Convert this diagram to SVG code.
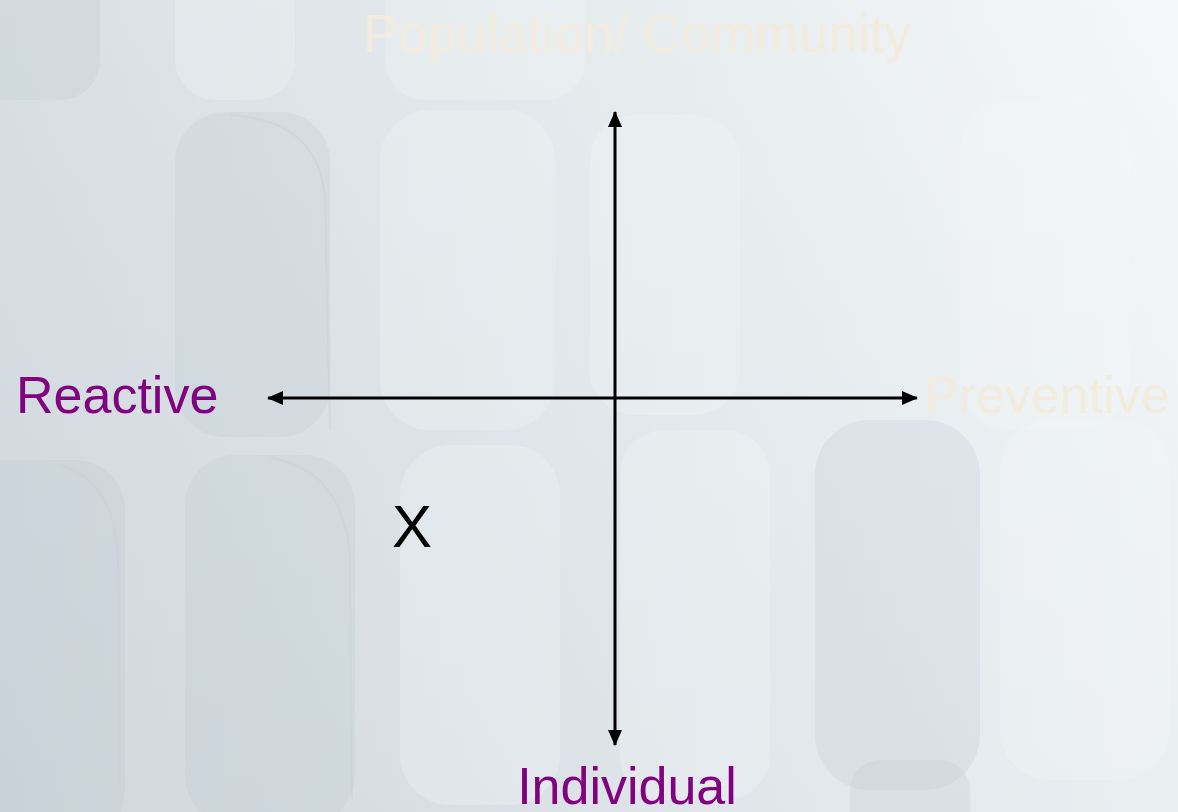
<svg xmlns="http://www.w3.org/2000/svg" width="1178" height="812" viewBox="0 0 1178 812">
<style>
.lbl{font-family:"Liberation Sans",Arial,sans-serif;font-size:52px}
.purple{fill:#800080}
.cream{fill:#F1ECDE}
.axis{stroke:#000;stroke-width:3;fill:none}
.pd{fill:#B8C4CC;opacity:0.22}
.pl{fill:#F4F7F9;opacity:0.28}
.edge{fill:none;stroke:#C6CFD5;stroke-width:2;opacity:0.4}
</style>
<defs>
<linearGradient id="bg" x1="0" y1="0" x2="1" y2="0">
<stop offset="0" stop-color="#D2DADF"/>
<stop offset="0.5" stop-color="#E2E8EB"/>
<stop offset="1" stop-color="#F3F6F8"/>
</linearGradient>
<linearGradient id="bgv" x1="0" y1="0" x2="0" y2="1">
<stop offset="0" stop-color="#FFFFFF" stop-opacity="0.15"/>
<stop offset="1" stop-color="#B9C5CD" stop-opacity="0.15"/>
</linearGradient>
<marker id="ah" viewBox="0 0 16 14" refX="15" refY="7" markerWidth="16" markerHeight="14" markerUnits="userSpaceOnUse" orient="auto">
<path d="M0,0 L16,7 L0,14 Z" fill="#000"/>
</marker>
</defs>
<g id="background">
<rect x="0" y="0" width="1178" height="812" fill="url(#bg)"/>
<rect x="0" y="0" width="1178" height="812" fill="url(#bgv)"/>
<rect class="pd" x="-40" y="-40" width="140" height="140" rx="40"/>
<rect class="pl" x="175" y="-40" width="120" height="140" rx="40"/>
<rect class="pl" x="385" y="-40" width="200" height="140" rx="40"/>
<rect class="pd" x="175" y="112" width="155" height="325" rx="50"/>
<path class="edge" d="M230,115 Q320,120 325,200 L330,430"/>
<rect class="pl" x="380" y="110" width="175" height="320" rx="50"/>
<rect class="pl" x="590" y="115" width="150" height="300" rx="45"/>
<rect class="pl" x="960" y="100" width="170" height="330" rx="50"/>
<rect class="pd" x="-40" y="460" width="165" height="380" rx="50"/>
<path class="edge" d="M60,465 Q115,480 118,560 L120,790"/>
<rect class="pd" x="185" y="455" width="170" height="370" rx="50"/>
<path class="edge" d="M270,458 Q345,470 350,560 L352,800"/>
<rect class="pl" x="400" y="445" width="160" height="360" rx="50"/>
<rect class="pl" x="620" y="430" width="150" height="370" rx="45"/>
<rect class="pd" x="815" y="420" width="165" height="370" rx="55"/>
<rect class="pl" x="1000" y="420" width="170" height="360" rx="50"/>
<rect class="pd" x="850" y="760" width="120" height="80" rx="30"/>
</g>
<g id="connectors">
<line class="axis" x1="615" y1="398" x2="615" y2="112" marker-end="url(#ah)"/>
<line class="axis" x1="615" y1="398" x2="615" y2="745" marker-end="url(#ah)"/>
<line class="axis" x1="615" y1="398" x2="268" y2="398" marker-end="url(#ah)"/>
<line class="axis" x1="615" y1="398" x2="917" y2="398" marker-end="url(#ah)"/>
</g>
<g id="node-top"><text class="lbl cream" x="637" y="52" text-anchor="middle" style="font-size:53px">Population/ Community</text></g>
<g id="node-left"><text class="lbl purple" x="16" y="413">Reactive</text></g>
<g id="node-right"><text class="lbl cream" x="924" y="413">Preventive</text></g>
<g id="node-bottom"><text class="lbl purple" x="627" y="804" text-anchor="middle">Individual</text></g>
<g id="node-x"><text class="lbl" x="392" y="547" style="font-size:60px" fill="#000">X</text></g>
</svg>
